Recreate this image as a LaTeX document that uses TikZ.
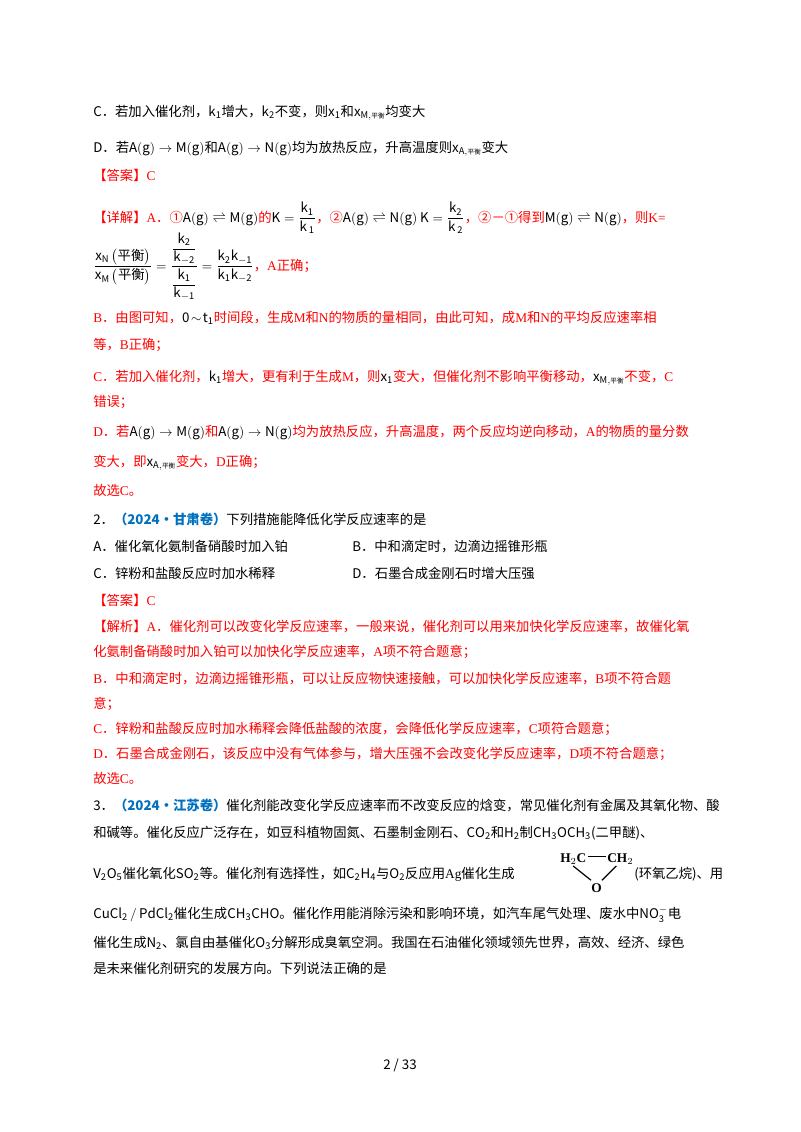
\documentclass[tikz,border=0pt]{standalone}
\usepackage{amsmath}
\usepackage{fontspec}
\setmainfont{Noto Sans CJK SC}
\newfontfamily\latf{Liberation Serif}
\newcommand{\lt}[1]{{\latf #1}}
\definecolor{rd}{RGB}{255,0,0}
\definecolor{bl}{RGB}{0,112,192}
\tikzset{ln/.style={anchor=base west,inner sep=0pt,font=\fontsize{10}{13}\selectfont},
 rl/.style={ln,text=rd},
 bond/.style={line width=0.9pt,draw=black}}
\begin{document}
\begin{tikzpicture}[x=0.75pt,y=-0.75pt]
\useasboundingbox (0,0) rectangle (800,1132);
\fill[white] (0,0) rectangle (800,1132);
\node[ln] (l1) at (93,116) {C．若加入催化剂，$\mathrm{k_1}$增大，$\mathrm{k_2}$不变，则$\mathrm{x_1}$和$\mathrm{x}_{\mathrm{M},\text{\tiny 平衡}}$均变大};
\node[ln] (l2) at (93,152) {D．若$\mathrm{A(g)\to M(g)}$和$\mathrm{A(g)\to N(g)}$均为放热反应，升高温度则$\mathrm{x}_{\mathrm{A},\text{\tiny 平衡}}$变大};
\node[rl] (l3) at (93,180) {【答案】\lt{C}};
\node[rl] (l4) at (93,222) {【详解】\lt{A}．①\textcolor{black}{$\mathrm{A(g)\rightleftharpoons M(g)}$}的\textcolor{black}{$\mathrm{K=\dfrac{k_1}{k_{\,1}}}$}，②\textcolor{black}{$\mathrm{A(g)\rightleftharpoons N(g)}$ $\mathrm{K=\dfrac{k_2}{k_{\,2}}}$}，②－①得到\textcolor{black}{$\mathrm{M(g)\rightleftharpoons N(g)}$}，则\lt{K=}};
\node[ln] (l5) at (93,270) {$\dfrac{\mathrm{x_N}\left(\text{平衡}\right)}{\mathrm{x_M}\left(\text{平衡}\right)}=\dfrac{\dfrac{\mathrm{k_2}}{\mathrm{k_{-2}}}}{\dfrac{\mathrm{k_1}}{\mathrm{k_{-1}}}}=\dfrac{\mathrm{k_2k_{-1}}}{\mathrm{k_1k_{-2}}}$\textcolor{rd}{，\lt{A}正确；}};
\node[rl] (l6) at (93,322) {\lt{B}．由图可知，\textcolor{black}{$\mathrm{0\!\sim\! t_1}$}时间段，生成\lt{M}和\lt{N}的物质的量相同，由此可知，成\lt{M}和\lt{N}的平均反应速率相};
\node[rl] (l7) at (93,349) {等，\lt{B}正确；};
\node[rl] (l8) at (93,381) {\lt{C}．若加入催化剂，\textcolor{black}{$\mathrm{k_1}$}增大，更有利于生成\lt{M}，则\textcolor{black}{$\mathrm{x_1}$}变大，但催化剂不影响平衡移动，\textcolor{black}{$\mathrm{x}_{\mathrm{M},\text{\tiny 平衡}}$}不变，\lt{C}};
\node[rl] (l9) at (93,406) {错误；};
\node[rl] (l10) at (93,436) {\lt{D}．若\textcolor{black}{$\mathrm{A(g)\to M(g)}$}和\textcolor{black}{$\mathrm{A(g)\to N(g)}$}均为放热反应，升高温度，两个反应均逆向移动，\lt{A}的物质的量分数};
\node[rl] (l11) at (93,466) {变大，即\textcolor{black}{$\mathrm{x}_{\mathrm{A},\text{\tiny 平衡}}$}变大，\lt{D}正确；};
\node[rl] (l12) at (93,495) {故选\lt{C}。};
\node[ln] (q2) at (93,524) {2．\textcolor{bl}{\bfseries（2024·甘肃卷）}下列措施能降低化学反应速率的是};
\node[ln] (o1) at (93,551) {A．催化氧化氨制备硝酸时加入铂};
\node[ln] (o2) at (352,551) {B．中和滴定时，边滴边摇锥形瓶};
\node[ln] (o3) at (93,578) {C．锌粉和盐酸反应时加水稀释};
\node[ln] (o4) at (352,578) {D．石墨合成金刚石时增大压强};
\node[rl] (a2) at (93,605) {【答案】\lt{C}};
\node[rl] (j1) at (93,631) {【解析】\lt{A}．催化剂可以改变化学反应速率，一般来说，催化剂可以用来加快化学反应速率，故催化氧};
\node[rl] (j2) at (93,656) {化氨制备硝酸时加入铂可以加快化学反应速率，\lt{A}项不符合题意；};
\node[rl] (j3) at (93,683) {\lt{B}．中和滴定时，边滴边摇锥形瓶，可以让反应物快速接触，可以加快化学反应速率，\lt{B}项不符合题};
\node[rl] (j4) at (93,708) {意；};
\node[rl] (j5) at (93,733) {\lt{C}．锌粉和盐酸反应时加水稀释会降低盐酸的浓度，会降低化学反应速率，\lt{C}项符合题意；};
\node[rl] (j6) at (93,758) {\lt{D}．石墨合成金刚石，该反应中没有气体参与，增大压强不会改变化学反应速率，\lt{D}项不符合题意；};
\node[rl] (j7) at (93,783) {故选\lt{C}。};
\node[ln] (q3) at (93,810) {3．\textcolor{bl}{\bfseries（2024·江苏卷）}催化剂能改变化学反应速率而不改变反应的焓变，常见催化剂有金属及其氧化物、酸};
\node[ln] (p1) at (93,837) {和碱等。催化反应广泛存在，如豆科植物固氮、石墨制金刚石、$\mathrm{CO_2}$和$\mathrm{H_2}$制$\mathrm{CH_3OCH_3}$(二甲醚)、};
\node[ln] (p2) at (93,878) {$\mathrm{V_2O_5}$催化氧化$\mathrm{SO_2}$等。催化剂有选择性，如$\mathrm{C_2H_4}$与$\mathrm{O_2}$反应用\lt{Ag}催化生成};
\node[ln,font=\fontsize{10}{12}\selectfont\latf\bfseries] (h1) at (560,862) {H$_2$C};
\node[ln,font=\fontsize{10}{12}\selectfont\latf\bfseries] (h2) at (607,862) {CH$_2$};
\node[ln,font=\fontsize{10}{12}\selectfont\latf\bfseries] (ox) at (591,892) {O};
\draw[bond] ([xshift=1pt,yshift=4pt]h1.base east) -- ([xshift=-1pt,yshift=4pt]h2.base west);
\draw[bond] ([xshift=-10pt,yshift=-3pt]h1.base east) -- ([yshift=2pt]ox.north west);
\draw[bond] ([xshift=7pt,yshift=-3pt]h2.base west) -- ([yshift=2pt]ox.north east);
\node[ln] (p2b) at (634,878) {(环氧乙烷)、用};
\node[ln] (p3) at (93,918) {$\mathrm{CuCl_2\,/\,PdCl_2}$催化生成$\mathrm{CH_3CHO}$。催化作用能消除污染和影响环境，如汽车尾气处理、废水中$\mathrm{NO_3^-}$电};
\node[ln] (p4) at (93,947) {催化生成$\mathrm{N_2}$、氯自由基催化$\mathrm{O_3}$分解形成臭氧空洞。我国在石油催化领域领先世界，高效、经济、绿色};
\node[ln] (p5) at (93,973) {是未来催化剂研究的发展方向。下列说法正确的是};
\node[ln,anchor=base] (pg) at (400,1069) {2 / 33};
\end{tikzpicture}
\end{document}
